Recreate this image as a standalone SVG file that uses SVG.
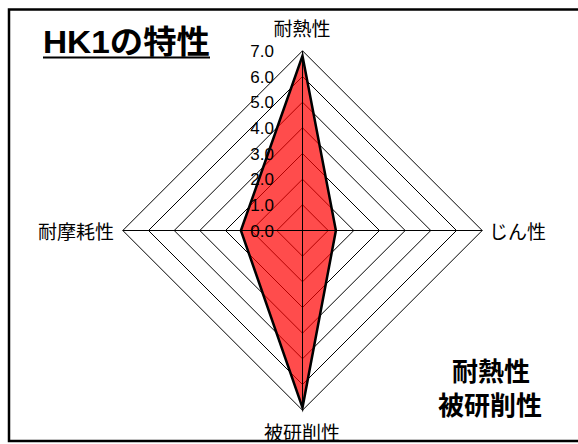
<svg xmlns="http://www.w3.org/2000/svg" width="578" height="444" viewBox="0 0 578 444">
<style>
.ring{fill:none;stroke:#000;stroke-width:1}
.axis{stroke:#000;stroke-width:1}
.tick{font-family:"Liberation Sans",Arial,sans-serif;font-size:17px;fill:#000;text-anchor:end}
.lab{font-family:"Noto Sans CJK JP","Liberation Sans",sans-serif;font-size:19px;fill:#000}
.big{font-family:"Noto Sans CJK JP","Liberation Sans",sans-serif;font-size:26px;font-weight:bold;fill:#000;text-anchor:middle}
</style>
<rect x="0" y="0" width="578" height="444" fill="#fff"/>
<g id="grid">
<polygon class="ring" points="302.5,204.8 328.2,230.5 302.5,256.2 276.8,230.5"/>
<polygon class="ring" points="302.5,179.2 353.8,230.5 302.5,281.8 251.2,230.5"/>
<polygon class="ring" points="302.5,153.5 379.5,230.5 302.5,307.5 225.5,230.5"/>
<polygon class="ring" points="302.5,127.8 405.2,230.5 302.5,333.2 199.8,230.5"/>
<polygon class="ring" points="302.5,102.2 430.8,230.5 302.5,358.8 174.2,230.5"/>
<polygon class="ring" points="302.5,76.5 456.5,230.5 302.5,384.5 148.5,230.5"/>
<polygon class="ring" points="302.5,50.8 482.2,230.5 302.5,410.2 122.8,230.5"/>
</g>
<g id="series">
<polygon points="302.5,55.9 335.9,230.5 302.5,407.6 240.9,230.5" fill="#ff0000" fill-opacity="0.7" stroke="none"/>
</g>
<g id="connectors">
<line class="axis" x1="302.5" y1="50.8" x2="302.5" y2="410.2"/>
<line class="axis" x1="122.8" y1="230.5" x2="482.2" y2="230.5"/>
</g>
<g id="series-outline">
<polygon points="302.5,55.9 335.9,230.5 302.5,407.6 240.9,230.5" fill="none" stroke="#000" stroke-width="2.5" stroke-linejoin="miter"/>
</g>
<g id="ticks">
<text class="tick" x="274" y="236.5">0.0</text>
<text class="tick" x="274" y="210.8">1.0</text>
<text class="tick" x="274" y="185.2">2.0</text>
<text class="tick" x="274" y="159.5">3.0</text>
<text class="tick" x="274" y="133.8">4.0</text>
<text class="tick" x="274" y="108.2">5.0</text>
<text class="tick" x="274" y="82.5">6.0</text>
<text class="tick" x="274" y="56.8">7.0</text>
</g>
<g id="axis-top"><text class="lab" x="302" y="36" text-anchor="middle">耐熱性</text></g>
<g id="axis-right"><text class="lab" x="489" y="239">じん性</text></g>
<g id="axis-bottom"><text class="lab" x="302" y="440" text-anchor="middle">被研削性</text></g>
<g id="axis-left"><text class="lab" x="114" y="239" text-anchor="end">耐摩耗性</text></g>
<g id="title">
<text x="43" y="53" font-family="'Liberation Sans','Noto Sans CJK JP',sans-serif" font-size="32" font-weight="bold" textLength="167" lengthAdjust="spacingAndGlyphs">HK1の特性</text>
<line x1="43" y1="57.5" x2="210" y2="57.5" stroke="#000" stroke-width="2"/>
</g>
<g id="note">
<text class="big" x="491" y="381">耐熱性</text>
<text class="big" x="490" y="415">被研削性</text>
</g>
<rect x="9" y="9.5" width="575" height="431.5" fill="none" stroke="#000" stroke-width="2.5"/>
</svg>
